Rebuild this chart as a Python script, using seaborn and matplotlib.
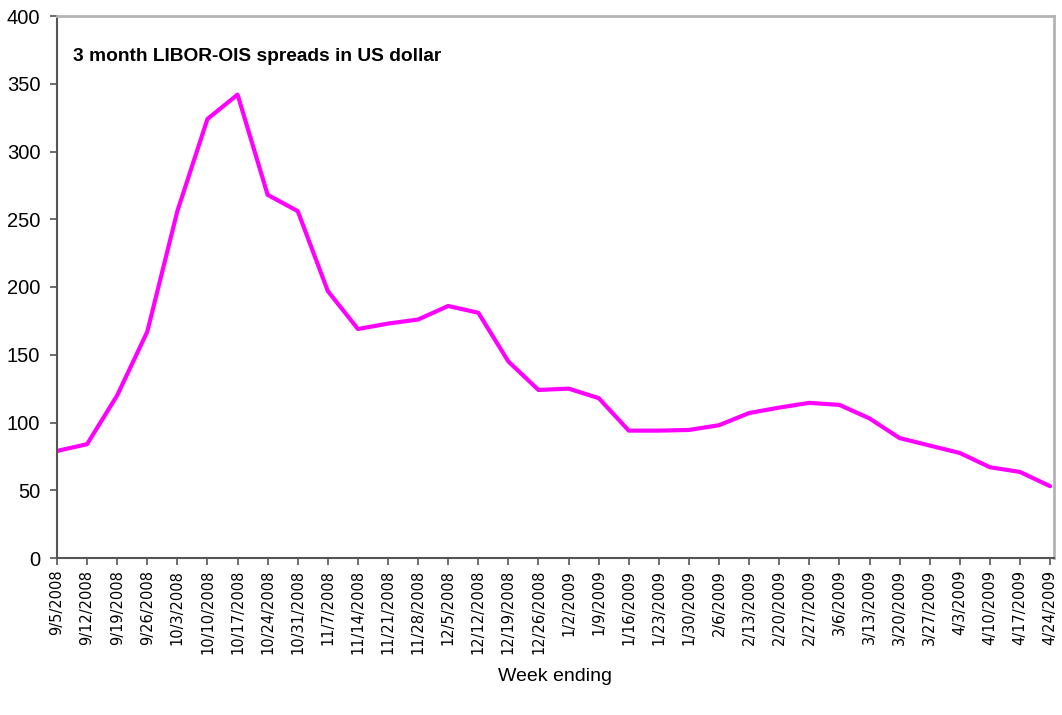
import matplotlib
matplotlib.use("Agg")
import matplotlib.pyplot as plt
import seaborn as sns
import pandas as pd

weeks = ["9/5/2008", "9/12/2008", "9/19/2008", "9/26/2008", "10/3/2008", "10/10/2008",
         "10/17/2008", "10/24/2008", "10/31/2008", "11/7/2008", "11/14/2008", "11/21/2008",
         "11/28/2008", "12/5/2008", "12/12/2008", "12/19/2008", "12/26/2008", "1/2/2009",
         "1/9/2009", "1/16/2009", "1/23/2009", "1/30/2009", "2/6/2009", "2/13/2009",
         "2/20/2009", "2/27/2009", "3/6/2009", "3/13/2009", "3/20/2009", "3/27/2009",
         "4/3/2009", "4/10/2009", "4/17/2009", "4/24/2009"]
spread = [79, 84, 120, 167, 256, 324, 342, 268, 256, 197, 169, 173, 176, 186, 181, 145,
          124, 125, 118, 94, 94, 94.5, 98, 107, 111, 114.5, 113, 103, 88.5, 83, 77.5,
          67, 63.5, 53]
yticks = [0, 50, 100, 150, 200, 250, 300, 350, 400]

sns.set_style("ticks")
plt.rcParams['font.family'] = ['Liberation Sans', 'DejaVu Sans']

df = pd.DataFrame({"idx": range(len(weeks)), "week": weeks, "spread": spread})

fig = plt.figure(figsize=(10.62, 7.15), dpi=100)
ax = fig.add_axes([57/1062, 1 - 558/715, (1054-57)/1062, (558-16)/715])
sns.lineplot(data=df, x="idx", y="spread", ax=ax, color="#FF00FF", linewidth=3)

ax.set_xlim(0, len(weeks) - 1 + 0.13)
ax.set_ylim(0, 400)
ax.set_yticks(yticks)
ax.set_yticklabels([str(v) for v in yticks], fontsize=14.5)
ax.set_xticks(range(len(weeks)))
ax.set_xticklabels(weeks, rotation=90, fontsize=10.5, family="DejaVu Sans")
ax.set_ylabel("")
ax.set_xlabel("Week ending", fontsize=14, labelpad=10, color="black")

for s in ["left", "bottom"]:
    ax.spines[s].set_color("#555555")
    ax.spines[s].set_linewidth(1.5)
for s in ["top", "right"]:
    ax.spines[s].set_visible(True)
    ax.spines[s].set_color("#b4b4b4")
    ax.spines[s].set_linewidth(2)
ax.tick_params(axis="both", colors="#555555", labelcolor="black", length=5, width=1.2, direction="out")
ax.tick_params(axis="y", pad=7)

ax.text(0.016, 0.925, "3 month LIBOR-OIS spreads in US dollar", transform=ax.transAxes,
        fontsize=13.8, fontweight="bold", ha="left", va="center", color="black")

fig.savefig("out.png", dpi=100)
